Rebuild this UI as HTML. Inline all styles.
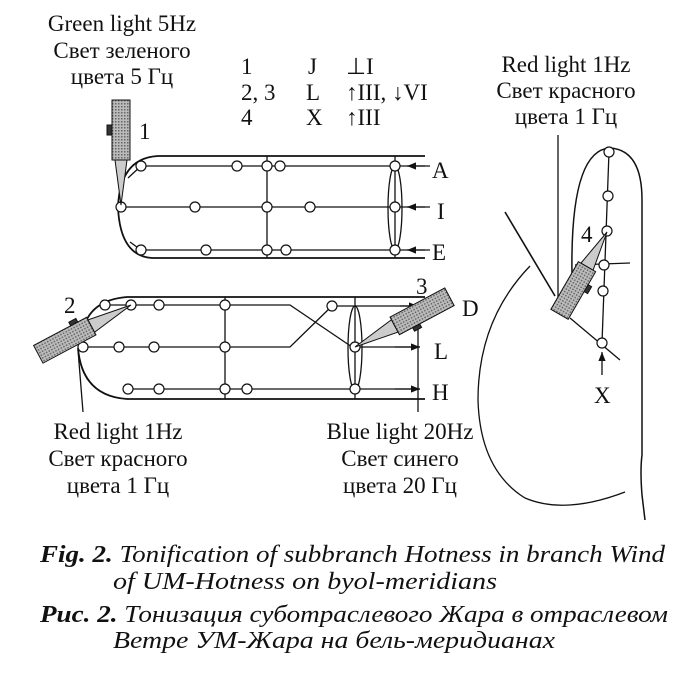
<!DOCTYPE html>
<html><head><meta charset="utf-8"><style>
body{margin:0;background:#fff}
svg{display:block}
text{font-family:"Liberation Serif",serif;fill:#111}
</style></head><body>
<svg width="700" height="676" viewBox="0 0 700 676">
<defs>
<marker id="ar" viewBox="0 0 10 10" refX="10" refY="5" markerWidth="7" markerHeight="7" orient="auto"><path d="M0,1 L10,5 L0,9z" fill="#111"/></marker>
<pattern id="hat" width="3" height="3" patternUnits="userSpaceOnUse"><rect width="3" height="3" fill="#bbb"/><rect width="1.5" height="1.5" fill="#666"/></pattern>
</defs>
<g font-size="23" text-anchor="middle">
<text x="122" y="31">Green light 5Hz</text>
<text x="122" y="58">Свет зеленого</text>
<text x="122" y="84">цвета 5 Гц</text>
<text x="566" y="72">Red light 1Hz</text>
<text x="566" y="98">Свет красного</text>
<text x="566" y="124">цвета 1 Гц</text>
<text x="118" y="439">Red light 1Hz</text>
<text x="118" y="466">Свет красного</text>
<text x="118" y="493">цвета 1 Гц</text>
<text x="400" y="439">Blue light 20Hz</text>
<text x="400" y="466">Свет синего</text>
<text x="400" y="493">цвета 20 Гц</text>
</g>
<g font-size="23">
<text x="241" y="74">1</text><text x="308" y="74">J</text><text x="346" y="74">⊥I</text>
<text x="241" y="100">2, 3</text><text x="306" y="100">L</text><text x="346" y="100">↑III, ↓VI</text>
<text x="241" y="125">4</text><text x="306" y="125">X</text><text x="346" y="125">↑III</text>
<text x="139" y="139">1</text>
<text x="432" y="178">A</text><text x="437" y="219">I</text><text x="432" y="260">E</text>
<text x="64" y="313">2</text><text x="416" y="294">3</text>
<text x="462" y="316">D</text><text x="434" y="359">L</text><text x="432" y="400">H</text>
<text x="581" y="242">4</text><text x="594" y="403">X</text>
</g>
<g fill="none" stroke="#111" stroke-width="1.3">
<path d="M425,156 H158 Q120,158 118,207 Q120,256 152,258 H425" stroke-width="1.8"/>
<path d="M141,166 H425 M121,207 H425 M141,250 H425"/>
<path d="M141,166 L128,178 M141,250 L130,242"/>
<path d="M267,156 V258 M395,156 V258"/>
<ellipse cx="395" cy="208" rx="7" ry="42"/>
<path d="M425,297 H127 Q90,300 83,330 M78,348 Q82,396 127,399 H425" stroke-width="1.8"/>
<path d="M105,305 H290 L352,347 M332,306 L290,347 H83 M332,306 H418 M355,347 H420 M128,389 H420" />
<path d="M225,297 V399 M355,297 V399 M418,305 V412 M78,350 L83,412"/>
<ellipse cx="355" cy="348" rx="7" ry="42"/>
<path d="M572,275 Q570,150 610,148 Q642,150 642,200 L642,455 Q640,470 642,495 L645,520" stroke-width="1.5"/>
<path d="M530,266 Q478,320 478,400 Q480,470 525,498 Q565,515 625,492"/>
<path d="M505,212 L555,296" stroke-width="1.6"/>
<path d="M558,135 V300"/>
<path d="M609,152 L602,343 M575,265 L630,263 M570,318 L620,360"/>
</g>
<g stroke="#111" stroke-width="1.3">
<path d="M430,166 H407" marker-end="url(#ar)"/>
<path d="M430,207 H407" marker-end="url(#ar)"/>
<path d="M430,250 H407" marker-end="url(#ar)"/>
<path d="M400,306 H418" marker-end="url(#ar)"/>
<path d="M395,347 H420" marker-end="url(#ar)"/>
<path d="M395,389 H420" marker-end="url(#ar)"/>
<path d="M602,375 V352" marker-end="url(#ar)"/>
</g>
<g fill="#fff" stroke="#111" stroke-width="1.2">
<circle cx="141" cy="166" r="5"/><circle cx="237" cy="166" r="5"/><circle cx="267" cy="166" r="5"/><circle cx="280" cy="166" r="5"/><circle cx="395" cy="166" r="5"/>
<circle cx="121" cy="207" r="5"/><circle cx="195" cy="207" r="5"/><circle cx="267" cy="207" r="5"/><circle cx="310" cy="207" r="5"/><circle cx="395" cy="207" r="5"/>
<circle cx="141" cy="250" r="5"/><circle cx="206" cy="250" r="5"/><circle cx="267" cy="250" r="5"/><circle cx="286" cy="250" r="5"/><circle cx="395" cy="250" r="5"/>
<circle cx="105" cy="305" r="5"/><circle cx="131" cy="305" r="5"/><circle cx="159" cy="305" r="5"/><circle cx="225" cy="305" r="5"/><circle cx="332" cy="306" r="5"/>
<circle cx="83" cy="347" r="5"/><circle cx="119" cy="347" r="5"/><circle cx="154" cy="347" r="5"/><circle cx="225" cy="347" r="5"/><circle cx="355" cy="347" r="5"/>
<circle cx="128" cy="389" r="5"/><circle cx="159" cy="389" r="5"/><circle cx="225" cy="389" r="5"/><circle cx="247" cy="389" r="5"/><circle cx="355" cy="389" r="5"/>
<circle cx="609" cy="152" r="5"/><circle cx="608" cy="196" r="5"/><circle cx="607" cy="231" r="5"/><circle cx="604" cy="265" r="5"/><circle cx="603" cy="291" r="5"/><circle cx="602" cy="343" r="5"/>
</g>
<g stroke="#111" stroke-width="1">
<g transform="translate(121,205)">
<path d="M0,0 L-6,-45 L6,-45 Z" fill="#ccc"/>
<rect x="-9" y="-105" width="18" height="60" fill="url(#hat)"/>
<rect x="-14" y="-80" width="5" height="10" fill="#333"/>
</g>
<g transform="translate(131,305) rotate(152)">
<path d="M0,0 L45,-7 L45,7 Z" fill="#ccc"/>
<rect x="45" y="-10" width="60" height="20" fill="url(#hat)"/>
<rect x="55" y="10" width="8" height="4" fill="#333"/>
</g>
<g transform="translate(355,347) rotate(-28)">
<path d="M0,0 L45,-7 L45,7 Z" fill="#ccc"/>
<rect x="45" y="-10" width="62" height="20" fill="url(#hat)"/>
<rect x="60" y="10" width="8" height="4" fill="#333"/>
</g>
<g transform="translate(607,232) rotate(120)">
<path d="M0,0 L40,-7 L40,7 Z" fill="#ccc"/>
<rect x="40" y="-10" width="55" height="20" fill="url(#hat)"/>
<rect x="55" y="-14" width="8" height="4" fill="#333"/>
</g>
</g>
<g font-size="24" font-style="italic">
<text x="40" y="562" textLength="625" lengthAdjust="spacingAndGlyphs"><tspan font-weight="bold">Fig. 2.</tspan>  Tonification of subbranch Hotness in branch Wind</text>
<text x="113" y="589" textLength="384" lengthAdjust="spacingAndGlyphs">of UM-Hotness on byol-meridians</text>
<text x="40" y="622" textLength="628" lengthAdjust="spacingAndGlyphs"><tspan font-weight="bold">Рис. 2.</tspan> Тонизация суботраслевого Жара в отраслевом</text>
<text x="113" y="648" textLength="442" lengthAdjust="spacingAndGlyphs">Ветре УМ-Жара на бель-меридианах</text>
</g>
</svg>
</body></html>
